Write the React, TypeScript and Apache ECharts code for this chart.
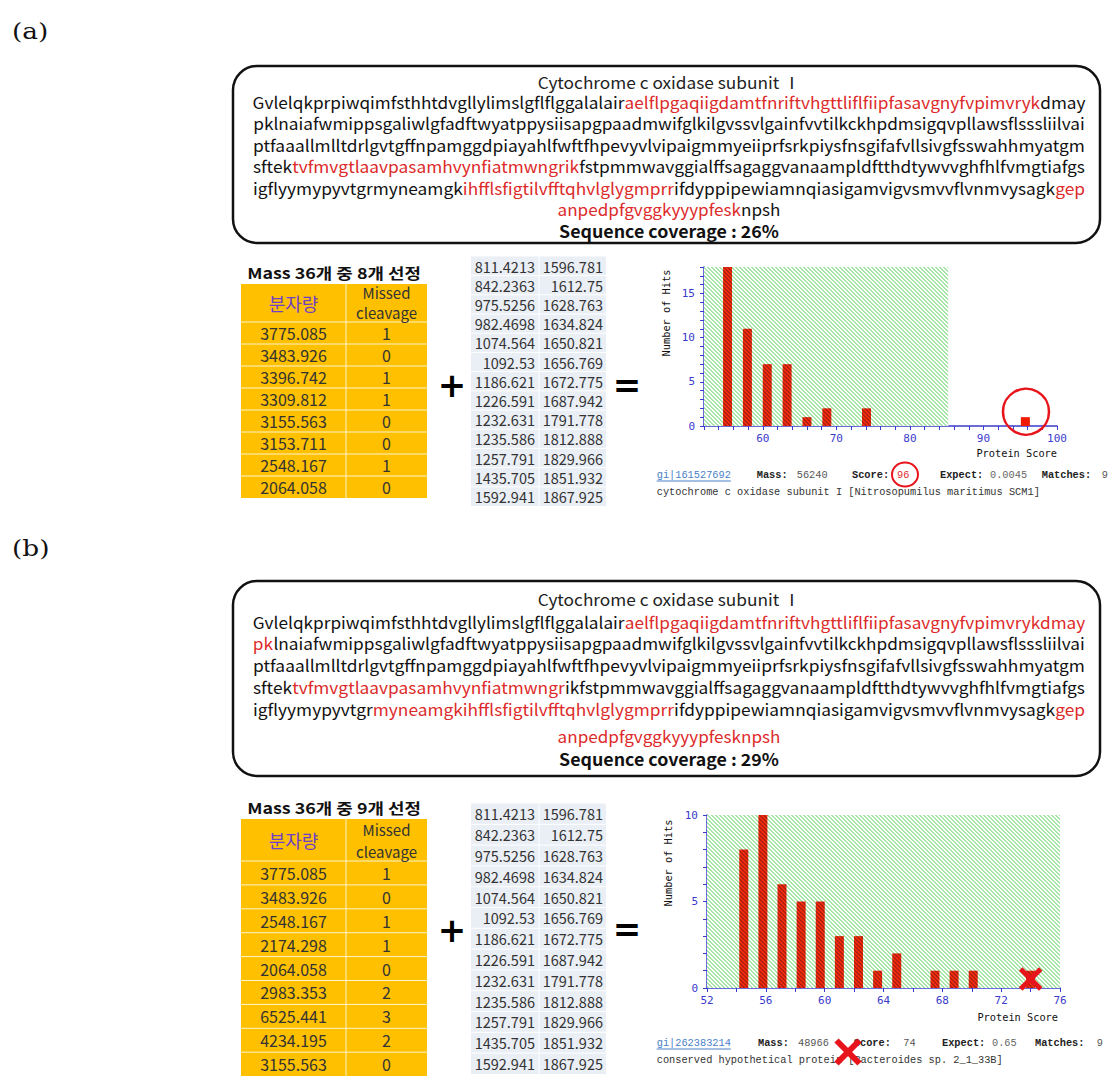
import React, { useEffect, useRef } from 'react';
import * as echarts from 'echarts';

// ---------------- data ----------------
const panelLabels = ['(a)', '(b)'];
const proteinTitle = 'Cytochrome c oxidase subunit Ⅰ';
const coverageTexts = ['Sequence coverage : 26%', 'Sequence coverage : 29%'];

// sequence lines: [colour key, text] ; k = black, r = matched (red)
const seqA: [string, string][][] = [
  [['k', 'Gvlelqkprpiwqimfsthhtdvgllylimslgflflggalalair'], ['r', 'aelflpgaqiigdamtfnriftvhgttliflfiipfasavgnyfvpimvryk'], ['k', 'dmay']],
  [['k', 'pklnaiafwmippsgaliwlgfadftwyatppysiisapgpaadmwifglkilgvssvlgainfvvtilkckhpdmsigqvpllawsflsssliilvai']],
  [['k', 'ptfaaallmlltdrlgvtgffnpamggdpiayahlfwftfhpevyvlvipaigmmyeiiprfsrkpiysfnsgifafvllsivgfsswahhmyatgm']],
  [['k', 'sftek'], ['r', 'tvfmvgtlaavpasamhvynfiatmwngrik'], ['k', 'fstpmmwavggialffsagaggvanaampldftthdtywvvghfhlfvmgtiafgs']],
  [['k', 'igflyymypyvtgrmyneamgk'], ['r', 'ihfflsfigtilvfftqhvlglygmprr'], ['k', 'ifdyppipewiamnqiasigamvigvsmvvflvnmvysagk'], ['r', 'gep']],
  [['r', 'anpedpfgvggkyyypfesk'], ['k', 'npsh']],
];
const seqB: [string, string][][] = [
  [['k', 'Gvlelqkprpiwqimfsthhtdvgllylimslgflflggalalair'], ['r', 'aelflpgaqiigdamtfnriftvhgttliflfiipfasavgnyfvpimvrykdmay']],
  [['r', 'pk'], ['k', 'lnaiafwmippsgaliwlgfadftwyatppysiisapgpaadmwifglkilgvssvlgainfvvtilkckhpdmsigqvpllawsflsssliilvai']],
  [['k', 'ptfaaallmlltdrlgvtgffnpamggdpiayahlfwftfhpevyvlvipaigmmyeiiprfsrkpiysfnsgifafvllsivgfsswahhmyatgm']],
  [['k', 'sftek'], ['r', 'tvfmvgtlaavpasamhvynfiatmwngr'], ['k', 'ikfstpmmwavggialffsagaggvanaampldftthdtywvvghfhlfvmgtiafgs']],
  [['k', 'igflyymypyvtgr'], ['r', 'myneamgkihfflsfigtilvfftqhvlglygmprr'], ['k', 'ifdyppipewiamnqiasigamvigvsmvvflvnmvysagk'], ['r', 'gep']],
  [['r', 'anpedpfgvggkyyypfesknpsh']],
];

const tableTitles = ['Mass 36개 중 8개 선정', 'Mass 36개 중 9개 선정'];
const colHeader1 = '분자량';
const colHeader2 = ['Missed', 'cleavage'];
const massA = ['3775.085', '3483.926', '3396.742', '3309.812', '3155.563', '3153.711', '2548.167', '2064.058'];
const missedA = [1, 0, 1, 1, 0, 0, 1, 0];
const massB = ['3775.085', '3483.926', '2548.167', '2174.298', '2064.058', '2983.353', '6525.441', '4234.195', '3155.563'];
const missedB = [1, 0, 1, 1, 0, 2, 3, 2, 0];

const peaksCol1 = ['811.4213', '842.2363', '975.5256', '982.4698', '1074.564', '1092.53', '1186.621', '1226.591', '1232.631', '1235.586', '1257.791', '1435.705', '1592.941'];
const peaksCol2 = ['1596.781', '1612.75', '1628.763', '1634.824', '1650.821', '1656.769', '1672.775', '1687.942', '1791.778', '1812.888', '1829.966', '1851.932', '1867.925'];

// histogram (a)
const scoresA = [55.2, 57.9, 60.6, 63.3, 66.0, 68.7, 74.1, 95.7];
const hitsA = [18, 11, 7, 7, 1, 2, 2, 1];
const thresholdA = 85.2;
const xRangeA = [52, 100];
const yMaxA = 18;
// histogram (b)
const scoresB = [54.5, 55.8, 57.1, 58.4, 59.7, 61.0, 62.3, 63.6, 64.9, 67.5, 68.8, 70.1, 74.0];
const hitsB = [8, 10, 6, 5, 5, 3, 3, 1, 2, 1, 1, 1, 1];
const thresholdB = 76;
const xRangeB = [52, 76];
const yMaxB = 10;

const hitInfo = [
  { gi: 'gi|161527692', mass: '56240', score: '96', expect: '0.0045', matches: '9', desc: 'cytochrome c oxidase subunit I [Nitrosopumilus maritimus SCM1]' },
  { gi: 'gi|262383214', mass: '48966', score: '74', expect: '0.65', matches: '9', desc: 'conserved hypothetical protein [Bacteroides sp. 2_1_33B]' },
];

// ---------------- layout / style ----------------
const RED = '#dd2a2a';
const BLUE = '#3a3acc';
const ORANGE = '#ffc000';
const KFONT = '"Noto Sans CJK KR"';
const MONO = '"Liberation Mono"';
const AXMONO = '"DejaVu Sans Mono"';

const layouts = [
  {
    label: [12, 31],
    box: { x: 233, y: 66, w: 867, h: 177 },
    cx: 669, titleY: 81.5, lineYs: [101.5, 123, 144.5, 166, 187.5, 209.5], covY: 231,
    table: { x: 241, top: 284, w: 186, colX: 346, headerH: 38, rowH: 22, titleY: 273, h1Y: 303, h2Y: [292.5, 312.5] },
    peaks: { x: 471, top: 256.4, w: 135, colX: 539, rowH: 19.2, col1R: 535, col2R: 603 },
    plus: [452, 385], eq: [627, 385],
    grid: { left: 704, top: 267, width: 353, height: 159 },
    yName: [666, 313], xName: [1057, 453],
    hitY: 475, descY: 492,
    hitX: { gi: 656.7, mass: 756.7, massV: 796.7, score: 852, scoreV: 897, expect: 940, expectV: 990, matches: 1041.7, matchesV: 1101.7 },
  },
  {
    label: [12, 548],
    box: { x: 233, y: 581, w: 867, h: 195 },
    cx: 669, titleY: 599, lineYs: [621.5, 643, 665, 686.5, 708.5, 736], covY: 759,
    table: { x: 241, top: 819, w: 186, colX: 346, headerH: 42, rowH: 23.9, titleY: 808, h1Y: 840, h2Y: [829.5, 851] },
    peaks: { x: 471, top: 803.5, w: 135, colX: 539, rowH: 20.8, col1R: 535, col2R: 603 },
    plus: [452, 930], eq: [627, 929],
    grid: { left: 707, top: 815, width: 353, height: 173 },
    yName: [668, 863], xName: [1058, 1017],
    hitY: 1043, descY: 1060,
    hitX: { gi: 656.7, mass: 758, massV: 798, score: 853.8, scoreV: 903.3, expect: 942, expectV: 992, matches: 1035, matchesV: 1096.7 },
  },
];

let measureCtx: CanvasRenderingContext2D | null = null;
function measure(text: string, font: string) {
  if (!measureCtx) measureCtx = document.createElement('canvas').getContext('2d');
  measureCtx!.font = font;
  return measureCtx!.measureText(text).width;
}

function hexRgb(h: string) {
  return [parseInt(h.slice(1, 3), 16), parseInt(h.slice(3, 5), 16), parseInt(h.slice(5, 7), 16)];
}

function stripePattern(bg: string, fg: string, period: number, band: number) {
  const c = document.createElement('canvas');
  c.width = period;
  c.height = period;
  const ctx = c.getContext('2d')!;
  const img = ctx.createImageData(period, period);
  const b = hexRgb(bg);
  const f = hexRgb(fg);
  for (let y = 0; y < period; y++) {
    for (let x = 0; x < period; x++) {
      const on = (((x - y) % period) + period) % period < band;
      const col = on ? f : b;
      const i = (y * period + x) * 4;
      img.data[i] = col[0];
      img.data[i + 1] = col[1];
      img.data[i + 2] = col[2];
      img.data[i + 3] = 255;
    }
  }
  ctx.putImageData(img, 0, 0);
  return { image: c.toDataURL(), repeat: 'repeat', imageWidth: period, imageHeight: period };
}

function textEl(text: string, x: number, y: number, font: string, fill: string, align = 'center', extra: any = {}) {
  return { type: 'text', x, y, z: 10, ...extra, style: { text, font, fill, align, verticalAlign: 'middle' } };
}

function seqEl(segs: [string, string][], cx: number, y: number, font: string, targetW: number) {
  const full = segs.map((s) => s[1]).join('');
  const w = measure(full, font);
  const sx = targetW / w;
  const text = segs.map(([k, t]) => `{${k}|${t}}`).join('');
  return {
    type: 'text', x: cx, y, scaleX: sx, z: 10,
    style: {
      text, font, align: 'center', verticalAlign: 'middle',
      rich: { k: { fill: '#111', font }, r: { fill: RED, font } },
    },
  };
}

function buildPanelGraphics(p: number) {
  const L = layouts[p];
  const els: any[] = [];
  const seq = p === 0 ? seqA : seqB;
  const mass = p === 0 ? massA : massB;
  const missed = p === 0 ? missedA : missedB;

  // panel label
  els.push(textEl(panelLabels[p], L.label[0], L.label[1], '22px "DejaVu Serif"', '#111', 'left', { scaleX: 1.2 }));

  // rounded box
  els.push({ type: 'rect', z: 5, shape: { x: L.box.x, y: L.box.y, width: L.box.w, height: L.box.h, r: 24 }, style: { fill: '#fff', stroke: '#111', lineWidth: 2.5 } });

  const seqFont = `16.5px ${KFONT}`;
  const titleFont = `16.5px ${KFONT}`;
  const t = measure(proteinTitle, titleFont);
  els.push(textEl(proteinTitle, L.cx, L.titleY, titleFont, '#222', 'center', { scaleX: 263 / t }));
  seq.forEach((segs, i) => {
    const target = i < seq.length - 1 ? 832 : 223;
    els.push(seqEl(segs, L.cx, L.lineYs[i], seqFont, target));
  });
  const covFont = `bold 16.5px ${KFONT}`;
  const cw = measure(coverageTexts[p], covFont);
  els.push(textEl(coverageTexts[p], L.cx, L.covY, covFont, '#111', 'center', { scaleX: 220 / cw }));

  // table
  const T = L.table;
  const tFont = `bold 15px ${KFONT}`;
  const tw = measure(tableTitles[p], tFont);
  els.push(textEl(tableTitles[p], T.x + T.w / 2, T.titleY, tFont, '#111', 'center', { scaleX: 174 / tw }));
  const tableH = T.headerH + T.rowH * mass.length;
  els.push({ type: 'rect', z: 5, shape: { x: T.x, y: T.top, width: T.w, height: tableH }, style: { fill: ORANGE } });
  els.push({ type: 'line', z: 6, shape: { x1: T.colX, y1: T.top, x2: T.colX, y2: T.top + tableH }, style: { stroke: '#fff3cc', lineWidth: 1 } });
  for (let i = 0; i < mass.length; i++) {
    const yy = T.top + T.headerH + i * T.rowH;
    els.push({ type: 'line', z: 6, shape: { x1: T.x, y1: yy, x2: T.x + T.w, y2: yy }, style: { stroke: '#fff3cc', lineWidth: 1 } });
  }
  const c1 = (T.x + T.colX) / 2;
  const c2 = (T.colX + T.x + T.w) / 2;
  els.push(textEl(colHeader1, c1, T.h1Y, `18px ${KFONT}`, '#7040c8'));
  els.push(textEl(colHeader2[0], c2, T.h2Y[0], `15px ${KFONT}`, '#333'));
  els.push(textEl(colHeader2[1], c2, T.h2Y[1], `15px ${KFONT}`, '#333'));
  mass.forEach((m, i) => {
    const yy = T.top + T.headerH + (i + 0.5) * T.rowH;
    els.push(textEl(m, c1, yy, `16px ${KFONT}`, '#333'));
    els.push(textEl(String(missed[i]), c2, yy, `16px ${KFONT}`, '#333'));
  });

  // peak list
  const P = L.peaks;
  const pH = P.rowH * peaksCol1.length;
  els.push({ type: 'rect', z: 5, shape: { x: P.x, y: P.top, width: P.w, height: pH }, style: { fill: '#eaeef5' } });
  els.push({ type: 'line', z: 6, shape: { x1: P.colX, y1: P.top, x2: P.colX, y2: P.top + pH }, style: { stroke: '#ffffff', lineWidth: 1 } });
  peaksCol1.forEach((v, i) => {
    const yy = P.top + (i + 0.5) * P.rowH;
    if (i > 0) els.push({ type: 'line', z: 6, shape: { x1: P.x, y1: P.top + i * P.rowH, x2: P.x + P.w, y2: P.top + i * P.rowH }, style: { stroke: '#ffffff', lineWidth: 1 } });
    els.push(textEl(v, P.col1R, yy, `14.5px ${KFONT}`, '#333', 'right'));
    els.push(textEl(peaksCol2[i], P.col2R, yy, `14.5px ${KFONT}`, '#333', 'right'));
  });

  // + and =
  els.push(textEl('+', L.plus[0], L.plus[1], 'bold 34px "DejaVu Sans"', '#000'));
  els.push(textEl('=', L.eq[0], L.eq[1], 'bold 34px "DejaVu Sans"', '#000'));

  // axis names
  els.push(textEl('Number of Hits', L.yName[0], L.yName[1], `10.3px ${AXMONO}`, '#111', 'center', { rotation: Math.PI / 2 }));
  els.push(textEl('Protein Score', L.xName[0], L.xName[1], `10.3px ${AXMONO}`, '#111', 'right'));

  // hit summary
  const H = hitInfo[p];
  const X = L.hitX;
  const mf = `10.3px ${MONO}`;
  const mb = `bold 10.3px ${MONO}`;
  els.push(textEl(H.gi, X.gi, L.hitY, mf, '#4a80c8', 'left'));
  els.push({ type: 'line', z: 10, shape: { x1: X.gi, y1: L.hitY + 6, x2: X.gi + measure(H.gi, mf), y2: L.hitY + 6 }, style: { stroke: '#4a80c8', lineWidth: 1 } });
  els.push(textEl('Mass:', X.mass, L.hitY, mb, '#222', 'left'));
  els.push(textEl(H.mass, X.massV, L.hitY, mf, '#555', 'left'));
  els.push(textEl('Score:', X.score, L.hitY, mb, '#222', 'left'));
  els.push(textEl(H.score, X.scoreV, L.hitY, mf, p === 0 ? RED : '#555', 'left'));
  els.push(textEl('Expect:', X.expect, L.hitY, mb, '#222', 'left'));
  els.push(textEl(H.expect, X.expectV, L.hitY, mf, '#666', 'left'));
  els.push(textEl('Matches:', X.matches, L.hitY, mb, '#222', 'left'));
  els.push(textEl(H.matches, X.matchesV, L.hitY, mf, '#555', 'left'));
  els.push(textEl(H.desc, X.gi, L.descY, mf, '#333', 'left'));
  return els;
}

function redX(cx: number, cy: number, h: number, w: number) {
  return [
    { type: 'line', z: 50, shape: { x1: cx - h, y1: cy - h, x2: cx + h, y2: cy + h }, style: { stroke: '#e8141b', lineWidth: w } },
    { type: 'line', z: 50, shape: { x1: cx + h, y1: cy - h, x2: cx - h, y2: cy + h }, style: { stroke: '#e8141b', lineWidth: w } },
  ];
}

function xAxisOpt(gridIndex: number, range: number[], labelStep: number) {
  return {
    type: 'value', gridIndex, min: range[0], max: range[1], interval: 2,
    axisLine: { show: true, onZero: false, lineStyle: { color: BLUE, width: 1.5 } },
    axisTick: { show: true, inside: false, length: 4, lineStyle: { color: BLUE, width: 1 } },
    axisLabel: { color: BLUE, fontFamily: 'DejaVu Sans Mono', fontSize: 11, margin: 7, formatter: (v: number) => (v % labelStep === 0 ? String(v) : '') },
    splitLine: { show: false },
  };
}
function yAxisOpt(gridIndex: number, max: number) {
  return {
    type: 'value', gridIndex, min: 0, max, interval: 1,
    axisLine: { show: true, lineStyle: { color: BLUE, width: 1.5 } },
    axisTick: { show: true, inside: false, length: 4, lineStyle: { color: BLUE, width: 1 } },
    axisLabel: { color: BLUE, fontFamily: 'DejaVu Sans Mono', fontSize: 11, margin: 9, formatter: (v: number) => (v % 5 === 0 ? String(v) : '') },
    splitLine: { show: false },
  };
}

export default function App() {
  const ref = useRef<HTMLDivElement>(null);
  useEffect(() => {
    if (!ref.current) return;
    const chart = echarts.init(ref.current, null, { renderer: 'svg', width: 1113, height: 1089 });
    const green = stripePattern('#ffffff', '#a6e6a6', 4, 2);
    const barHatch = stripePattern('#f22c0c', '#b42010', 4, 2);

    const barSeries = (idx: number, scores: number[], hits: number[], thr: number, range: number[], yMax: number) => ({
      type: 'bar', xAxisIndex: idx, yAxisIndex: idx, barWidth: 9, z: 3,
      data: scores.map((s, i) => ({ value: [s, hits[i]], itemStyle: { color: s < thr ? barHatch : '#f01a00' } })),
      markArea: {
        silent: true, z: 1,
        itemStyle: { color: green, opacity: 1, borderWidth: 0 },
        data: [[{ coord: [range[0], 0] }, { coord: [thr, yMax] }]],
      },
    });

    const elements: any[] = [...buildPanelGraphics(0), ...buildPanelGraphics(1)];
    // annotations
    elements.push({ type: 'circle', z: 50, shape: { cx: 1026, cy: 411.7, r: 23 }, style: { fill: 'none', stroke: '#e8141b', lineWidth: 2.5 } });
    elements.push({ type: 'ellipse', z: 50, shape: { cx: 905, cy: 474.5, rx: 13, ry: 12 }, style: { fill: 'none', stroke: '#e8141b', lineWidth: 2 } });
    elements.push(...redX(1030.7, 979, 10, 5));
    elements.push(...redX(848, 1052, 11.5, 6));

    chart.setOption({
      animation: false,
      backgroundColor: '#ffffff',
      grid: [
        { ...layouts[0].grid, containLabel: false },
        { ...layouts[1].grid, containLabel: false },
      ],
      xAxis: [xAxisOpt(0, xRangeA, 10), xAxisOpt(1, xRangeB, 4)],
      yAxis: [yAxisOpt(0, yMaxA), yAxisOpt(1, yMaxB)],
      series: [
        barSeries(0, scoresA, hitsA, thresholdA, xRangeA, yMaxA),
        barSeries(1, scoresB, hitsB, thresholdB, xRangeB, yMaxB),
      ],
      graphic: { elements },
    });
    return () => chart.dispose();
  }, []);
  return <div ref={ref} style={{ position: 'absolute', left: 0, top: 0, width: 1113, height: 1089 }} />;
}
